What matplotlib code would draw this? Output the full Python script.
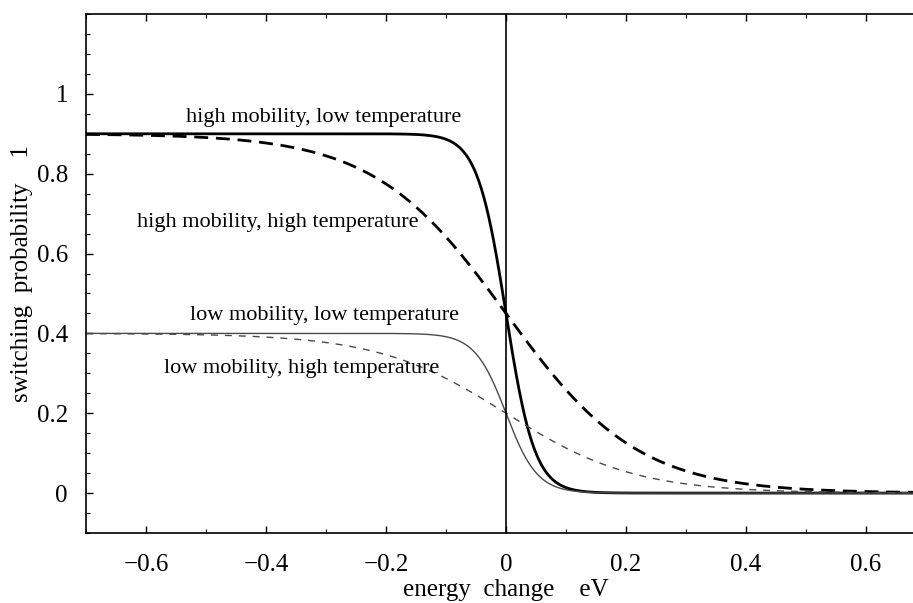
import numpy as np
import matplotlib
matplotlib.use("Agg")
import matplotlib.pyplot as plt
from matplotlib.ticker import MultipleLocator

plt.rcParams['font.family'] = ['Liberation Serif', 'DejaVu Serif']

# Parameters
labels = ["high mobility, low temperature", "high mobility, high temperature",
          "low mobility, low temperature", "low mobility, high temperature"]
amplitude = [0.9, 0.9, 0.4, 0.4]        # plateau value for negative energy change
kT = [0.024, 0.11, 0.026, 0.107]        # thermal width in eV
label_x = [-0.304, -0.38, -0.302, -0.34]
label_y = [0.942, 0.678, 0.446, 0.313]

E = np.linspace(-0.7, 0.7, 1401)

fig = plt.figure(figsize=(9.13, 6.03), dpi=100)
ax = fig.add_axes([86 / 913, 70 / 603, 840 / 913, 519 / 603])

styles = [
    dict(color='black', lw=2.0, ls='-'),
    dict(color='black', lw=2.0, ls=(0, (5, 2.8))),
    dict(color='#4a4a4a', lw=1.0, ls='-'),
    dict(color='#4a4a4a', lw=1.0, ls=(0, (5, 5))),
]

for a, t, st in zip(amplitude, kT, styles):
    p = a / (1 + np.exp(E / t))
    ax.plot(E, p, **st)

for txt, x, y in zip(labels, label_x, label_y):
    ax.text(x, y, txt, ha='center', va='center', fontsize=16)

ax.axvline(0, color='black', lw=1.2)

ax.set_xlim(-0.7, 0.7)
ax.set_ylim(-0.1, 1.2)
ax.xaxis.set_minor_locator(MultipleLocator(0.1))
ax.yaxis.set_minor_locator(MultipleLocator(0.05))
ax.set_xticks([-0.6, -0.4, -0.2, 0, 0.2, 0.4, 0.6])
ax.set_xticklabels(['\u22120.6', '\u22120.4', '\u22120.2', '0', '0.2', '0.4', '0.6'])
ax.set_yticks([0, 0.2, 0.4, 0.6, 0.8, 1])
ax.set_yticklabels(['0', '0.2', '0.4', '0.6', '0.8', '1'])

ax.tick_params(which='both', direction='in', top=True, right=True, labelsize=18)
ax.tick_params(axis='x', which='major', length=5, width=1, pad=15)
ax.tick_params(axis='y', which='major', length=5, width=1, pad=13)
ax.tick_params(which='minor', length=3, width=0.8)
for s in ax.spines.values():
    s.set_linewidth(1.2)

ax.set_xlabel('energy  change    eV', fontsize=18, labelpad=2)
ax.set_ylabel('switching  probability    1', fontsize=18, labelpad=3)

fig.savefig('out.png', dpi=100)
